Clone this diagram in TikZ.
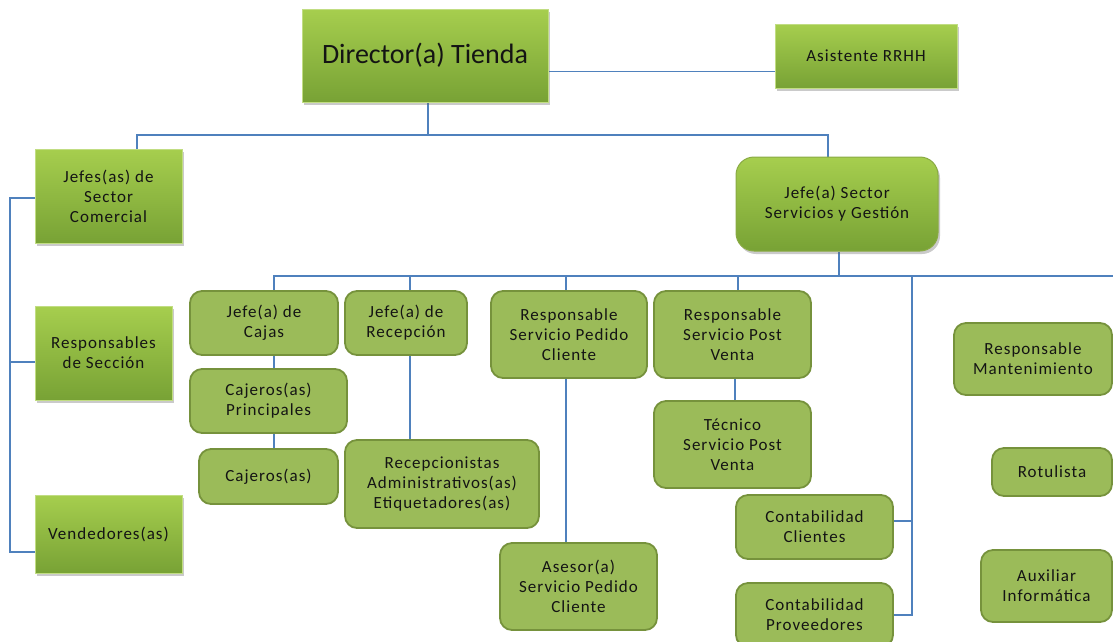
\documentclass[tikz,border=0pt]{standalone}
\usepackage{fontspec}
\setmainfont{Carlito}
\newfontfamily\boxfont[LetterSpace=6]{Carlito}
\usetikzlibrary{shadows,backgrounds}
\definecolor{ln}{HTML}{4F81BD}
\definecolor{gfill}{HTML}{9BBB59}
\definecolor{gdraw}{HTML}{76923C}
\definecolor{gtop}{HTML}{A6CE4E}
\definecolor{gbot}{HTML}{78A235}
\tikzset{
  sz/.style 2 args={minimum width=#1pt, minimum height=#2pt},
  txt/.style={align=center, text=black!92, inner sep=2pt, font=\boxfont\fontsize{17}{20}\selectfont},
  rbox/.style={txt, rounded corners=12pt, fill=gfill, draw=gdraw, line width=1.8pt},
  gbox/.style={txt, top color=gtop, bottom color=gbot, draw=gtop!70!white, line width=0.6pt,
    drop shadow={shadow xshift=2pt, shadow yshift=-3pt, opacity=0.35, fill=black!60}},
  conn/.style={draw=ln, line width=1.3pt}
}
\begin{document}
\begin{tikzpicture}[x=1pt,y=-1pt]
\useasboundingbox (0,0) rectangle (1113,641);
\clip (0,0) rectangle (1113,641);

% top level
\node[gbox, sz={246}{93}, font=\fontsize{28}{32}\selectfont] (dir) at (425,55.5) {Director(a) Tienda};
\node[gbox, sz={182}{64}] (asis) at (866,56) {Asistente RRHH};
\node[gbox, sz={147}{94}] (jsc) at (108.5,196) {Jefes(as) de\\Sector\\Comercial};
\node[gbox, sz={137}{94}] (resp) at (103.5,353) {Responsables\\de Sección};
\node[gbox, sz={147}{78}] (vend) at (108.5,534) {Vendedores(as)};
\node[gbox, rounded corners=18pt, draw=gdraw!60!gtop, line width=1pt, sz={202}{94}] (jss) at (837,204) {Jefe(a) Sector\\Servicios y Gestión};

% service children
\node[rbox, sz={148}{64}] (cajas) at (264,323) {Jefe(a) de\\Cajas};
\node[rbox, sz={122}{64}] (recep) at (406,323) {Jefe(a) de\\Recepción};
\node[rbox, sz={156}{87}] (rspc) at (569,334.5) {Responsable\\Servicio Pedido\\Cliente};
\node[rbox, sz={157}{87}] (rspv) at (732.5,334.5) {Responsable\\Servicio Post\\Venta};
\node[rbox, sz={157}{64}] (cprin) at (268.5,401) {Cajeros(as)\\Principales};
\node[rbox, sz={139}{55}] (cajeros) at (268.5,476.5) {Cajeros(as)};
\node[rbox, sz={194}{88}] (recepc) at (442,484) {Recepcionistas\\Administrativos(as)\\Etiquetadores(as)};
\node[rbox, sz={157}{87}] (asesor) at (578.5,586.5) {Asesor(a)\\Servicio Pedido\\Cliente};
\node[rbox, sz={157}{87}] (tecnico) at (732.5,444.5) {Técnico\\Servicio Post\\Venta};
\node[rbox, sz={157}{64}] (cc) at (814.5,527) {Contabilidad\\Clientes};
\node[rbox, sz={157}{64}] (cp) at (814.5,615) {Contabilidad\\Proveedores};
\node[rbox, sz={158}{72}] (mant) at (1033,359) {Responsable\\Mantenimiento};
\node[rbox, sz={120}{48}] (rot) at (1052,472) {Rotulista};
\node[rbox, sz={131}{72}] (aux) at (1046.5,586) {Auxiliar\\Informática};

\coordinate (topbus) at (0,135);
\coordinate (sbus) at (0,276);
\coordinate (busend) at (1125,276);
\coordinate (lx) at (10,0);
\coordinate (cx) at (912,0);
\coordinate (rx) at (1118,0);

\begin{scope}[on background layer]
% director level
\draw[conn] ([xshift=3pt]dir.south) -- ([xshift=3pt]dir.south |- topbus);
\draw[conn] ([xshift=28.5pt]jsc.north) |- ([xshift=-9pt]jss.north |- topbus) -- ([xshift=-9pt]jss.north);
\draw[conn] ([yshift=-16pt]dir.east) -- ([yshift=-16pt]dir.east -| asis.west);
% left bracket
\draw[conn] ([yshift=-2pt]jsc.west) -- ([yshift=-2pt]jsc.west -| lx) |- ([yshift=-18pt]vend.west);
\draw[conn] ([yshift=-9pt]resp.west) -- ([yshift=-9pt]resp.west -| lx);
% services bus
\draw[conn] ([xshift=2pt]jss.south) -- ([xshift=2pt]jss.south |- sbus);
\draw[conn] ([xshift=10pt]cajas.north) |- (busend);
\draw[conn] ([xshift=4pt]recep.north) -- ([xshift=4pt]recep.north |- sbus);
\draw[conn] ([xshift=-3pt]rspc.north) -- ([xshift=-3pt]rspc.north |- sbus);
\draw[conn] ([xshift=5.5pt]rspv.north) -- ([xshift=5.5pt]rspv.north |- sbus);
% chains
\draw[conn] ([xshift=10pt]cajas.south) -- ([xshift=10pt]cajas.south |- cprin.north);
\draw[conn] ([xshift=10pt]cajas.south |- cprin.south) -- ([xshift=10pt]cajas.south |- cajeros.north);
\draw[conn] ([xshift=4pt]recep.south) -- ([xshift=4pt]recep.south |- recepc.north);
\draw[conn] ([xshift=-3pt]rspc.south) -- ([xshift=-3pt]rspc.south |- asesor.north);
\draw[conn] ([xshift=2.5pt]rspv.south) -- ([xshift=2.5pt]rspv.south |- tecnico.north);
% contabilidad
\draw[conn] (cx |- sbus) |- (cp.east);
\draw[conn] ([yshift=6pt]cc.east) -- ([yshift=6pt]cc.east -| cx);
% right column
\draw[conn] (rx |- sbus) -- (rx |- aux.east);
\draw[conn] (mant.east) -- (mant.east -| rx);
\draw[conn] (rot.east) -- (rot.east -| rx);
\draw[conn] (aux.east) -- (aux.east -| rx);
\end{scope}
\end{tikzpicture}
\end{document}
